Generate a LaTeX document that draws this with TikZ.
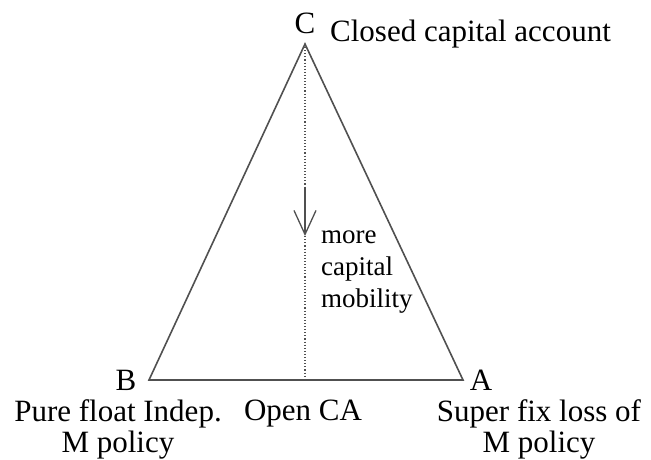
\documentclass[tikz,border=0pt]{standalone}
\usepackage{fontspec}
\setmainfont{Liberation Serif}
\usetikzlibrary{arrows.meta, positioning}
\definecolor{linegray}{RGB}{80, 80, 80}

\begin{document}
\begin{tikzpicture}[
  x=1pt, y=1pt,
  side/.style={draw=linegray, line width=1.6pt, line join=miter},
  axis/.style={draw=linegray, line width=1.1pt, dotted},
  arrow/.style={-{Straight Barb[length=24pt, width=22pt, line width=1.3pt]}, draw=linegray, line width=1.3pt},
  vertex/.style={inner sep=0pt, anchor=base, font=\fontsize{31}{33}\selectfont},
  caption/.style={inner sep=0pt, anchor=base, align=center, font=\fontsize{31}{31}\selectfont},
  note/.style={inner sep=0pt, anchor=base west, align=left, font=\fontsize{27}{32}\selectfont}
]
\useasboundingbox (0,0) rectangle (651,460);

% Corners of the triangle
\coordinate (C) at (305,416);
\coordinate (B) at (149,80);
\coordinate (A) at (463,80);
\coordinate (O) at (305,80);

% Arrow along the axis
\coordinate (arrowtop) at (305,272);
\coordinate (arrowtip) at (305,224);

% Triangle and axis
\draw[axis] (C) -- (O);
\draw[side] (B) -- (C) -- (A) -- cycle;
\draw[arrow] (arrowtop) -- (arrowtip);

% Corner letters
\node[vertex] (labelC) at (305,426) {C};
\node[vertex] (labelB) at (126,69) {B};
\node[vertex] (labelA) at (481,69) {A};

% Descriptions (base = last line)
\node[note, font=\fontsize{31}{33}\selectfont] (closed) at (330,418) {Closed capital account};
\node[note] (mobility) at (321,152) {more\\capital\\mobility};
\node[caption] (float) at (118,7) {Pure float Indep.\\M policy};
\node[caption] (open) at (303,39) {Open CA};
\node[caption] (fix) at (539,7) {Super fix loss of\\M policy};

\end{tikzpicture}
\end{document}
